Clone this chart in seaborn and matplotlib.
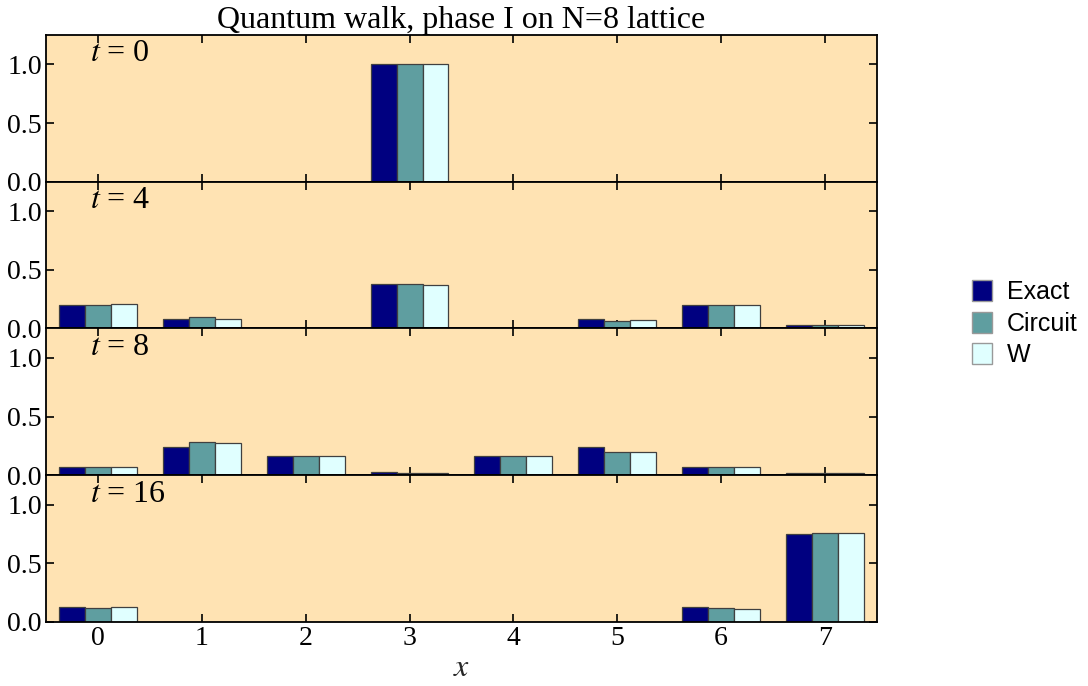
"""
Quantum walk: bar panels of the probability per lattice site.
"""

import matplotlib
matplotlib.use("Agg")
import matplotlib.pyplot as plt
import seaborn as sns
import pandas as pd
from matplotlib.patches import Patch

sites = [0, 1, 2, 3, 4, 5, 6, 7]
times = [0, 4, 8, 16]
methods = ["Exact", "Circuit", "W"]
colors = ["#000080", "#5F9EA0", "#E0FFFF"]

# probabilidades, por tiempo y metodo
exact_t0 = [0, 0, 0, 1.0, 0, 0, 0, 0]
circuit_t0 = [0, 0, 0, 1.0, 0, 0, 0, 0]
w_t0 = [0, 0, 0, 1.0, 0, 0, 0, 0]

exact_t4 = [0.20, 0.080, 0, 0.380, 0.002, 0.080, 0.200, 0.031]
circuit_t4 = [0.20, 0.097, 0, 0.377, 0.002, 0.063, 0.200, 0.028]
w_t4 = [0.205, 0.077, 0, 0.370, 0.005, 0.074, 0.197, 0.028]

exact_t8 = [0.071, 0.239, 0.165, 0.028, 0.165, 0.239, 0.071, 0.023]
circuit_t8 = [0.071, 0.282, 0.165, 0.023, 0.165, 0.200, 0.071, 0.017]
w_t8 = [0.071, 0.276, 0.165, 0.023, 0.162, 0.202, 0.068, 0.020]

exact_t16 = [0.128, 0.003, 0.003, 0.002, 0.003, 0.003, 0.128, 0.746]
circuit_t16 = [0.120, 0.003, 0.003, 0.002, 0.003, 0.003, 0.120, 0.760]
w_t16 = [0.128, 0.003, 0.003, 0.002, 0.003, 0.003, 0.108, 0.755]

panels = {
    0: [exact_t0, circuit_t0, w_t0],
    4: [exact_t4, circuit_t4, w_t4],
    8: [exact_t8, circuit_t8, w_t8],
    16: [exact_t16, circuit_t16, w_t16],
}

sns.set_style("ticks")
plt.rcParams["font.family"] = ["Liberation Serif", "DejaVu Serif"]
plt.rcParams["mathtext.fontset"] = "stix"
plt.rcParams["text.color"] = "black"
plt.rcParams["xtick.color"] = "black"
plt.rcParams["ytick.color"] = "black"
plt.rcParams["axes.edgecolor"] = "black"

fig, axes = plt.subplots(4, 1, figsize=(10.88, 6.86), dpi=100, sharex=True)
fig.subplots_adjust(left=0.0423, right=0.806, top=0.949, bottom=0.0933, hspace=0)

for ax, t in zip(axes, times):
    rows = []
    for m, vals in zip(methods, panels[t]):
        for x, v in zip(sites, vals):
            rows.append({"x": x, "p": v, "method": m})
    df = pd.DataFrame(rows)

    sns.barplot(
        data=df, x="x", y="p", hue="method",
        hue_order=methods, palette=colors, width=0.75, saturation=1,
        edgecolor="0.25", linewidth=0.9, ax=ax, legend=False,
    )

    ax.set_facecolor("#FFE3B3")
    ax.set_xlim(-0.5, 7.5)
    ax.set_ylim(0, 1.25)
    ax.set_yticks([0, 0.5, 1.0])
    ax.set_yticklabels(["0.0", "0.5", "1.0"])
    ax.tick_params(direction="in", top=True, right=True, length=6,
                   width=1.2, labelsize=20, pad=3)
    for s in ax.spines.values():
        s.set_linewidth(1.3)
    ax.set_xlabel("")
    ax.set_ylabel("")
    ax.text(0.053, 0.97, f"$t$ = {t}", transform=ax.transAxes,
            ha="left", va="top", fontsize=23)

axes[-1].set_xticks(sites)
axes[-1].set_xticklabels([str(s) for s in sites])
axes[-1].set_xlabel("$x$", fontsize=23, labelpad=2)
axes[0].set_title("Quantum walk, phase I on N=8 lattice", fontsize=23, pad=2)

handles = [Patch(facecolor=c, edgecolor="0.6", label=m)
           for m, c in zip(methods, colors)]
fig.legend(handles=handles, loc="center left", bbox_to_anchor=(0.893, 0.528),
           frameon=False, prop={"family": "Liberation Sans", "size": 18},
           handlelength=0.8, handleheight=0.9, handletextpad=0.6,
           labelspacing=0.3, borderaxespad=0, borderpad=0)

plt.savefig("out.png", dpi=100)
